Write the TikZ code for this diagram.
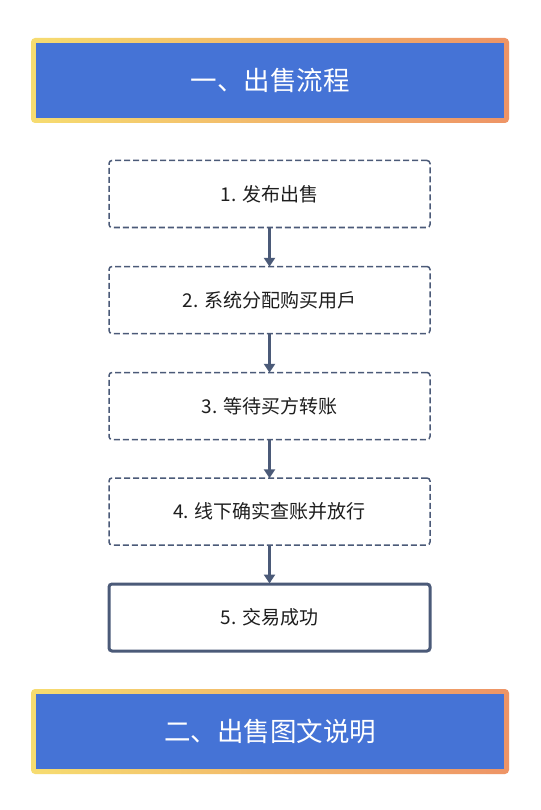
\documentclass[tikz,border=0pt]{standalone}
\usepackage{fontspec}
\setmainfont{Noto Sans CJK SC}
\usetikzlibrary{arrows.meta,positioning}
\definecolor{hblue}{HTML}{4573D6}
\definecolor{hyellow}{HTML}{F6DC70}
\definecolor{horange}{HTML}{EE9466}
\definecolor{edgec}{HTML}{4B5A78}
\definecolor{txtc}{HTML}{1E1E1E}
\tikzset{
  stepbox/.style={draw=edgec, line width=1.5pt, dash pattern=on 6pt off 3pt, rounded corners=3pt,
    minimum width=321pt, minimum height=67pt, inner sep=0pt, text=txtc, font=\fontsize{19}{22}\selectfont},
  finalbox/.style={stepbox, solid, line width=3pt},
  flowarrow/.style={draw=edgec, line width=3pt, -{Triangle[width=11pt,length=9pt]}, shorten >=-1pt},
  headtext/.style={text=white, font=\fontsize{26.5}{30}\selectfont}
}
\begin{document}
\begin{tikzpicture}[x=1pt,y=-1pt]
\useasboundingbox (0,0) rectangle (540,810);
\fill[white] (0,0) rectangle (540,810);
% header 1
\shade[left color=hyellow, right color=horange, rounded corners=4pt] (31,38) rectangle (509,123);
\fill[hblue] (36,43) rectangle (504,118);
\node[headtext] (h1) at (270,80.5) {一、出售流程};
% header 2
\shade[left color=hyellow, right color=horange, rounded corners=4pt] (31,689) rectangle (509,774);
\fill[hblue] (36,694) rectangle (504,769);
\node[headtext] (h2) at (270,731.5) {二、出售图文说明};
% steps
\node[stepbox] (s1) at (269.5,194) {1. 发布出售};
\node[stepbox] (s2) at (269.5,300) {2. 系统分配购买用戶};
\node[stepbox] (s3) at (269.5,406) {3. 等待买方转账};
\node[stepbox] (s4) at (269.5,511.5) {4. 线下确实查账并放行};
\node[finalbox] (s5) at (269.5,617.5) {5. 交易成功};
\draw[flowarrow] (s1.south) -- (s2.north);
\draw[flowarrow] (s2.south) -- (s3.north);
\draw[flowarrow] (s3.south) -- (s4.north);
\draw[flowarrow] (s4.south) -- (s5.north);
\end{tikzpicture}
\end{document}
